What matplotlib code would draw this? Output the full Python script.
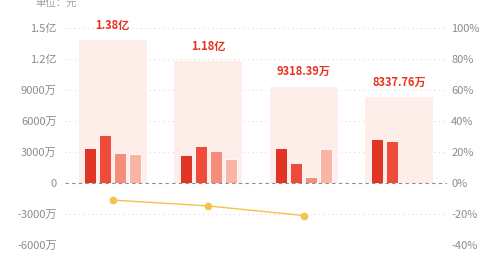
import numpy as np
import matplotlib.pyplot as plt
from matplotlib.ticker import FixedLocator

plt.rcParams['font.family'] = ['Noto Sans CJK SC', 'DejaVu Sans']

# values in 万元
totals = [13800, 11800, 9318.39, 8337.76]
total_labels = ['1.38亿', '1.18亿', '9318.39万', '8337.76万']
sub_series = [
    [3390, 2740, 3390, 4260],
    [4610, 3550, 1900, 4030],
    [2900, 3100, 610, None],
    [2770, 2360, 3320, None],
]
growth = [-11.0, -14.8, -21.0]  # percent

left_ticks = [-6000, -3000, 0, 3000, 6000, 9000, 12000, 15000]
left_labels = ['-6000万', '-3000万', '0', '3000万', '6000万', '9000万', '1.2亿', '1.5亿']
right_ticks = [-40, -20, 0, 20, 40, 60, 80, 100]

bar_colors = ['#E03424', '#EE4B3B', '#F48E79', '#F9B4A6']
bg_color = '#FDEEEA'
line_color = '#F5C24E'
label_red = '#E8321F'
tick_gray = '#8C8C8C'

fig = plt.figure(figsize=(5, 2.6), dpi=100)
ax = fig.add_axes([0.13, 0.0577, 0.764, 0.8346])
x = np.arange(len(totals))

ax.bar(x, totals, width=0.71, color=bg_color, zorder=1)
stride = 0.157
for i, vals in enumerate(sub_series):
    xs = [xi + (i - 1.5) * stride for xi, v in zip(x, vals) if v is not None]
    vs = [v for v in vals if v is not None]
    ax.bar(xs, vs, width=0.125, color=bar_colors[i], edgecolor='white',
           linewidth=0.6, zorder=3)

for xi, t, lab in zip(x, totals, total_labels):
    ax.annotate(lab, (xi, t), xytext=(0, 6), textcoords='offset points',
                ha='center', va='bottom', color=label_red, fontsize=8,
                fontweight='bold')

ax.set_xlim(-0.5, 3.5)
ax.set_ylim(-6000, 15000)
ax.yaxis.set_major_locator(FixedLocator(left_ticks))
ax.set_yticklabels(left_labels)
for t in left_ticks:
    if t == 0:
        ax.axhline(0, color='#8C8C8C', lw=0.8, ls=(0, (3, 3)), zorder=4)
    else:
        ax.axhline(t, color='#EBD6D6', lw=0.8, ls=(0, (1, 3)), zorder=0)
ax.set_xticks([])
for s in ax.spines.values():
    s.set_visible(False)
ax.tick_params(axis='y', length=0, pad=6, labelsize=8, labelcolor=tick_gray)

ax2 = ax.twinx()
ax2.set_ylim(-40, 100)
ax2.yaxis.set_major_locator(FixedLocator(right_ticks))
ax2.set_yticklabels([f'{t}%' for t in right_ticks])
ax2.plot(x[:len(growth)], growth, color=line_color, lw=1, marker='o',
         markersize=4.5, zorder=5)
for s in ax2.spines.values():
    s.set_visible(False)
ax2.tick_params(axis='y', length=0, pad=3, labelsize=8, labelcolor=tick_gray)

fig.text(0.07, 0.985, '单位：元', ha='left', va='center', color='#A0A0A0',
         fontsize=7.5)

fig.savefig('out.png', dpi=100)
